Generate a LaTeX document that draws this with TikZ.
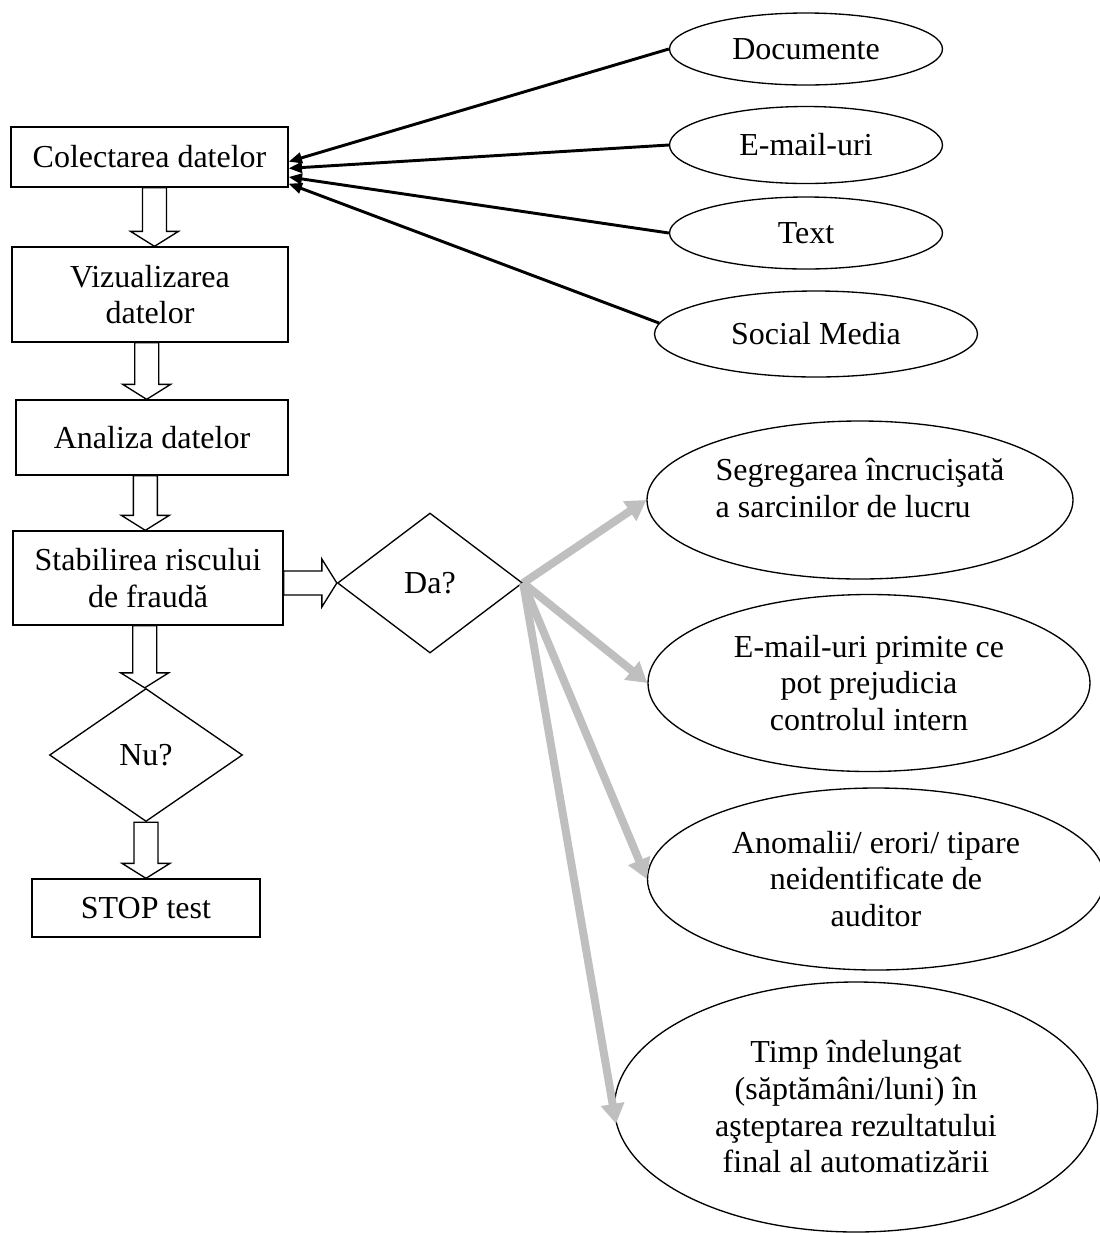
\documentclass[tikz,border=0pt]{standalone}
\usepackage{fontspec}
\setmainfont{Liberation Serif}
\usetikzlibrary{shapes.geometric,arrows.meta,calc}

\tikzset{
  procbox/.style={draw,line width=1pt,align=center,inner sep=0pt},
  decision/.style={draw,diamond,line width=1pt,inner sep=0pt},
  source/.style={draw,ellipse,line width=1pt,align=center,inner sep=0pt},
  hollowarrow/.style={draw,line width=1pt,fill=white},
  feedline/.style={line width=2.2pt,-{Triangle[length=10pt,width=8pt]}},
  riskline/.style={line width=6pt,color=gray!50,-{Triangle[length=15pt,width=17pt]}}
}

\begin{document}
\begin{tikzpicture}[x=0.75pt,y=-0.75pt,font=\fontsize{24}{27.5}\selectfont]
\useasboundingbox (0,0) rectangle (1100,1233);
% Process Boxes
\node[procbox,minimum width=207.75pt,minimum height=45pt] (coll) at (149.5,157) {Colectarea datelor};
\node[procbox,minimum width=207pt,minimum height=71.25pt] (viz) at (150,294.5) {Vizualizarea\\datelor};
\node[procbox,minimum width=204pt,minimum height=56.25pt] (anal) at (152,437.5) {Analiza datelor};
\node[procbox,minimum width=202.5pt,minimum height=70.5pt] (stab) at (148,578) {Stabilirea riscului\\de fraudă};
\node[procbox,minimum width=171pt,minimum height=43.5pt] (stop) at (146,908) {STOP test};
% Decisions
\node[decision,minimum width=138.75pt,minimum height=105pt] (da) at (430,583) {Da?};
\node[decision,minimum width=144.75pt,minimum height=99.75pt] (nu) at (146,755) {Nu?};
% Data Sources
\node[source,minimum width=204.75pt,minimum height=54pt] (doc) at (806,49) {Documente};
\node[source,minimum width=204.75pt,minimum height=57.75pt] (mail) at (806,145) {E-mail-uri};
\node[source,minimum width=204.75pt,minimum height=54pt] (txt) at (806,233) {Text};
\node[source,minimum width=242.25pt,minimum height=64.5pt] (soc) at (816,334) {Social Media};
% Fraud Risks
\node[source,align=left,minimum width=319.5pt,minimum height=118.5pt] (seg) at (860,500) {Segregarea încrucişată\\a sarcinilor de lucru\\[-9pt]\mbox{}};
\node[source,minimum width=331.5pt,minimum height=132.75pt] (prim) at (869,683) {E-mail-uri primite ce\\pot prejudicia\\controlul intern};
\node[source,minimum width=342.75pt,minimum height=136.5pt] (anom) at (876,879) {Anomalii/ erori/ tipare\\neidentificate de\\auditor};
\node[source,minimum width=362.25pt,minimum height=187.5pt] (timp) at (856,1107) {Timp îndelungat\\(săptămâni/luni) în\\aşteptarea rezultatului\\final al automatizării};
% Feed Lines
\draw[feedline] (doc.west) -- ([yshift=-3.5pt]coll.east);
\draw[feedline] (mail.west) -- ([yshift=-8.5pt]coll.east);
\draw[feedline] (txt.west) -- ([yshift=-15pt]coll.east);
\draw[feedline] (soc.176) -- ([yshift=-20pt]coll.east);
% Block Arrows
\draw[hollowarrow] let \p1=([xshift=3.75pt]coll.south), \p2=(viz.north) in (\x1-9pt,\y1) -- (\x1-9pt,\y2+11.25pt) -- (\x1-18pt,\y2+11.25pt) -- (\x1,\y2) -- (\x1+18pt,\y2+11.25pt) -- (\x1+9pt,\y2+11.25pt) -- (\x1+9pt,\y1) -- cycle;
\draw[hollowarrow] let \p1=([xshift=-2.5pt]viz.south), \p2=(anal.north) in (\x1-9pt,\y1) -- (\x1-9pt,\y2+11.25pt) -- (\x1-18pt,\y2+11.25pt) -- (\x1,\y2) -- (\x1+18pt,\y2+11.25pt) -- (\x1+9pt,\y2+11.25pt) -- (\x1+9pt,\y1) -- cycle;
\draw[hollowarrow] let \p1=([xshift=-5pt]anal.south), \p2=(stab.north) in (\x1-9pt,\y1) -- (\x1-9pt,\y2+11.25pt) -- (\x1-18pt,\y2+11.25pt) -- (\x1,\y2) -- (\x1+18pt,\y2+11.25pt) -- (\x1+9pt,\y2+11.25pt) -- (\x1+9pt,\y1) -- cycle;
\draw[hollowarrow] let \p1=([xshift=-2.5pt]stab.south), \p2=(nu.north) in (\x1-9pt,\y1) -- (\x1-9pt,\y2+11.25pt) -- (\x1-18pt,\y2+11.25pt) -- (\x1,\y2) -- (\x1+18pt,\y2+11.25pt) -- (\x1+9pt,\y2+11.25pt) -- (\x1+9pt,\y1) -- cycle;
\draw[hollowarrow] let \p1=(nu.south), \p2=(stop.north) in (\x1-9pt,\y1) -- (\x1-9pt,\y2+11.25pt) -- (\x1-18pt,\y2+11.25pt) -- (\x1,\y2) -- (\x1+18pt,\y2+11.25pt) -- (\x1+9pt,\y2+11.25pt) -- (\x1+9pt,\y1) -- cycle;
\draw[hollowarrow] let \p1=(stab.east), \p2=(da.west) in (\x1,\y2+9pt) -- (\x2-11.25pt,\y2+9pt) -- (\x2-11.25pt,\y2+18pt) -- (\x2,\y2) -- (\x2-11.25pt,\y2-18pt) -- (\x2-11.25pt,\y2-9pt) -- (\x1,\y2-9pt) -- cycle;
% Risk Lines
\draw[riskline] (da.east) -- (seg.west);
\draw[riskline] (da.east) -- (prim.west);
\draw[riskline] (da.east) -- (anom.west);
\draw[riskline] (da.east) -- (timp.184);
\end{tikzpicture}
\end{document}
